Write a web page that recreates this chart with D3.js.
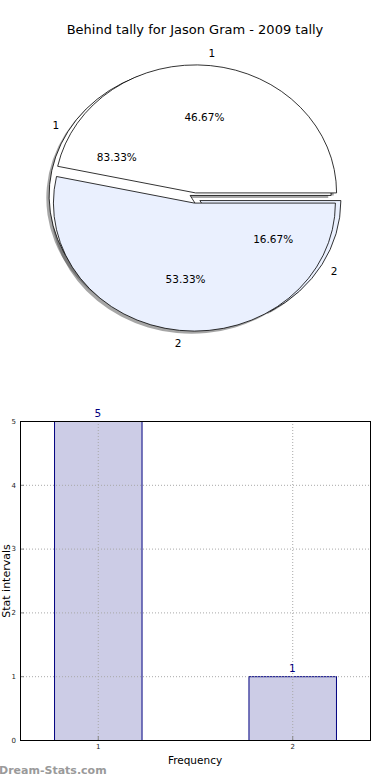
<!DOCTYPE html>
<html>
<head>
<meta charset="utf-8">
<script src="https://cdn.jsdelivr.net/npm/d3@7"></script>
<style>
  body { margin: 0; background: #fff; }
  svg { font-family: "DejaVu Sans", sans-serif; display: block; }
</style>
</head>
<body>
<div id="chart"></div>
<script>
var title = "Behind tally for Jason Gram - 2009 tally";

// upper pie (drawn on top)
var tallyLabels = ["1", "2"];
var tallyValues = [7, 8];
// lower pie
var freqLabels = ["1", "2"];
var freqValues = [5, 1];

// bars
var barCats = [1, 2];
var barVals = [5, 1];
var yTicks = [0, 1, 2, 3, 4, 5];

var pieColors = ["#ffffff", "#eaf0fe"];

var w = 390, h = 780;
var svg = d3.select("#chart").append("svg")
    .attr("width", w)
    .attr("height", h);

svg.append("text")
    .attr("x", 195).attr("y", 34)
    .attr("text-anchor", "middle")
    .style("font-size", "13px")
    .text(title);

// ---- pie ----
var cx = 195, cy = 198, rx = 141, ry = 128, explode = 0.04;

var pie = d3.pie().sort(null)
    .startAngle(Math.PI / 2)
    .endAngle(Math.PI / 2 - 2 * Math.PI);
var arc = d3.arc().innerRadius(0).outerRadius(rx);

function mid(d) { return (d.startAngle + d.endAngle) / 2; }
function off(d) {
    var a = mid(d);
    return [explode * rx * Math.sin(a), -explode * ry * Math.cos(a)];
}

var pies = [
    { labels: freqLabels, arcs: pie(freqValues) },
    { labels: tallyLabels, arcs: pie(tallyValues) }
];

// shadows under everything
pies.forEach(function (p) {
    svg.append("g").selectAll("path.shadow")
        .data(p.arcs).enter().append("path")
        .attr("transform", function (d) {
            var o = off(d);
            return "translate(" + (cx + o[0] - 2.8) + "," + (cy + o[1] + 2.6) + ") scale(1," + (ry / rx) + ")";
        })
        .attr("d", arc)
        .attr("fill", "#4d4d4d")
        .attr("fill-opacity", 0.5);
});

pies.forEach(function (p) {
    svg.append("g").selectAll("path.wedge")
        .data(p.arcs).enter().append("path")
        .attr("transform", function (d) {
            var o = off(d);
            return "translate(" + (cx + o[0]) + "," + (cy + o[1]) + ") scale(1," + (ry / rx) + ")";
        })
        .attr("d", arc)
        .attr("fill", function (d, i) { return pieColors[i]; })
        .attr("stroke", "#000")
        .attr("stroke-width", 0.8)
        .attr("vector-effect", "non-scaling-stroke");
});

pies.forEach(function (p) {
    var total = d3.sum(p.arcs, function (d) { return d.value; });
    var g = svg.append("g").style("font-size", "10.5px").attr("text-anchor", "middle");
    p.arcs.forEach(function (d, i) {
        var o = off(d), a = mid(d);
        g.append("text")
            .attr("x", cx + o[0] + 1.1 * rx * Math.sin(a))
            .attr("y", cy + o[1] - 1.1 * ry * Math.cos(a) + 4)
            .text(p.labels[i]);
        g.append("text")
            .attr("x", cx + o[0] + 0.6 * rx * Math.sin(a))
            .attr("y", cy + o[1] - 0.6 * ry * Math.cos(a) + 4)
            .text((d.value / total * 100).toFixed(2) + "%");
    });
});

// ---- bar chart ----
var mLeft = 20, mRight = 370, mTop = 421, mBottom = 740;
var x = d3.scaleLinear().domain([0.6, 2.4]).range([mLeft, mRight]);
var y = d3.scaleLinear().domain([0, 5]).range([mBottom, mTop]);
var barW = 0.45;

var bars = svg.append("g");
bars.selectAll("rect")
    .data(barCats).enter().append("rect")
    .attr("x", function (d) { return x(d - barW / 2) + 0.5; })
    .attr("y", function (d, i) { return y(barVals[i]) + 0.5; })
    .attr("width", function (d) { return x(d + barW / 2) - x(d - barW / 2); })
    .attr("height", function (d, i) { return y(0) - y(barVals[i]); })
    .attr("fill", "#cccce6")
    .attr("stroke", "#000080")
    .attr("stroke-width", 1);

// grid
var grid = svg.append("g")
    .attr("stroke", "#a8a8a8")
    .attr("stroke-width", 1)
    .attr("stroke-dasharray", "1,2");
grid.selectAll("line.gy").data(yTicks).enter().append("line")
    .attr("x1", mLeft).attr("x2", mRight)
    .attr("y1", function (d) { return y(d) + 0.5; })
    .attr("y2", function (d) { return y(d) + 0.5; });
grid.selectAll("line.gx").data(barCats).enter().append("line")
    .attr("y1", mTop).attr("y2", mBottom)
    .attr("x1", function (d) { return x(d) + 0.5; })
    .attr("x2", function (d) { return x(d) + 0.5; });

var yAxis = d3.axisLeft(y).tickValues(yTicks).tickFormat(d3.format("d")).tickSize(-4).tickPadding(4);
var xAxis = d3.axisBottom(x).tickValues(barCats).tickFormat(d3.format("d")).tickSize(-4).tickPadding(4);

var ya = svg.append("g").attr("transform", "translate(" + mLeft + ",0)").call(yAxis);
var xa = svg.append("g").attr("transform", "translate(0," + mBottom + ")").call(xAxis);
[ya, xa].forEach(function (a) {
    a.select(".domain").remove();
    a.selectAll("line").attr("stroke", "#888");
    a.selectAll("text").style("font-size", "7px").style("font-family", "DejaVu Sans").attr("fill", "#222");
});

svg.append("rect")
    .attr("x", mLeft + 0.5).attr("y", mTop + 0.5)
    .attr("width", mRight - mLeft).attr("height", mBottom - mTop)
    .attr("fill", "none").attr("stroke", "#000").attr("stroke-width", 1);

svg.append("g").selectAll("text.val")
    .data(barCats).enter().append("text")
    .attr("x", function (d) { return x(d); })
    .attr("y", function (d, i) { return y(barVals[i]) - 4; })
    .attr("text-anchor", "middle")
    .attr("fill", "#000080")
    .style("font-size", "10.5px")
    .text(function (d, i) { return barVals[i]; });

svg.append("text")
    .attr("x", 195).attr("y", 764)
    .attr("text-anchor", "middle")
    .style("font-size", "10.5px")
    .text("Frequency");

svg.append("text")
    .attr("transform", "translate(9.5,581) rotate(-90)")
    .attr("text-anchor", "middle")
    .style("font-size", "11px")
    .text("Stat intervals");

svg.append("text")
    .attr("x", -1).attr("y", 774)
    .attr("fill", "#9a9a9a")
    .style("font-size", "11px")
    .style("font-weight", "bold")
    .text("Dream-Stats.com");
</script>
</body>
</html>
